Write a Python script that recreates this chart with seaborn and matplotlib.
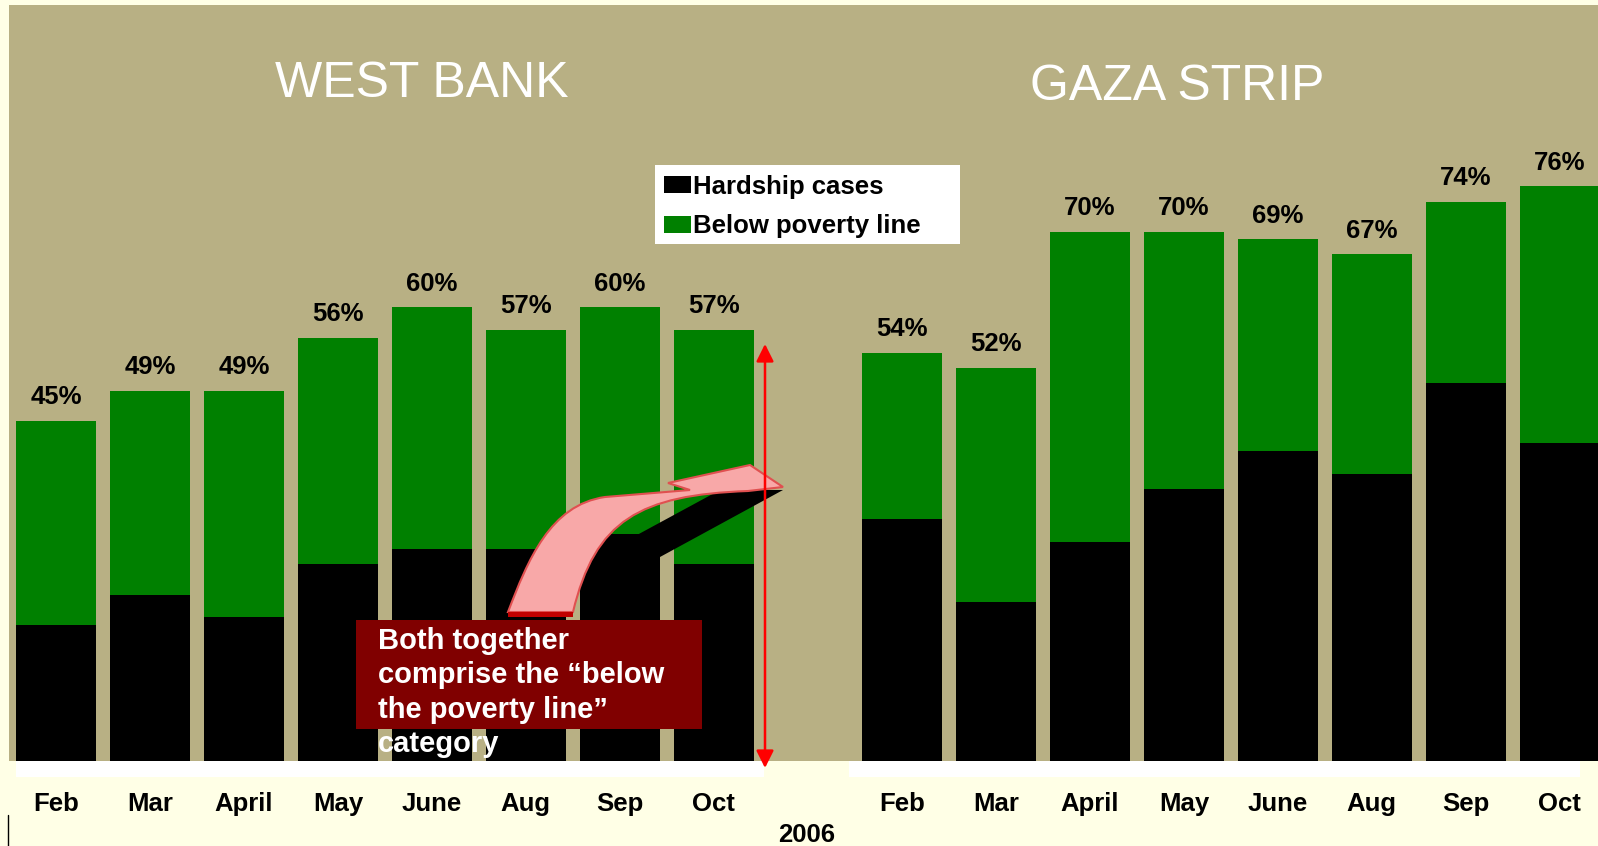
import matplotlib
matplotlib.use("Agg")
import matplotlib.pyplot as plt
import numpy as np
import pandas as pd
import seaborn as sns
from matplotlib.patches import Rectangle, FancyArrowPatch, PathPatch, Polygon
from matplotlib.path import Path
from matplotlib.lines import Line2D

months = ['Feb', 'Mar', 'April', 'May', 'June', 'Aug', 'Sep', 'Oct']
west_total = [45, 49, 49, 56, 60, 57, 60, 57]
west_hardship = [18, 22, 19, 26, 28, 28, 30, 26]
gaza_total = [54, 52, 70, 70, 69, 67, 74, 76]
gaza_hardship = [32, 21, 29, 36, 41, 38, 50, 42]
year_label = '2006'
note_lines = ['Both together', 'comprise the \u201cbelow', 'the poverty line\u201d', 'category']

W, H = 1598, 846
cream = '#FFFFE6'
khaki = '#B8B084'
green = '#008000'
black = '#000000'

sns.set_theme(style='white')
plt.rcParams['font.family'] = ['Liberation Sans', 'DejaVu Sans']
plt.rcParams['text.color'] = 'black'
plt.rcParams['xtick.color'] = 'black'
plt.rcParams['xtick.labelcolor'] = 'black'


def ff(x, y):
    # pixel (top-left origin) -> figure fraction
    return x / W, 1 - y / H


fig = plt.figure(figsize=(W / 100, H / 100), dpi=100, facecolor=cream)

# khaki panel and white base strips
fig.add_artist(Rectangle(ff(9, 761), (W - 9) / W, (761 - 5) / H, transform=fig.transFigure,
                         facecolor=khaki, edgecolor='none', zorder=0))
fig.add_artist(Rectangle(ff(16, 777), (764 - 16) / W, 16 / H, transform=fig.transFigure,
                         facecolor='white', edgecolor='none', zorder=0))
fig.add_artist(Rectangle(ff(849, 777), (1580 - 849) / W, 16 / H, transform=fig.transFigure,
                         facecolor='white', edgecolor='none', zorder=0))
fig.add_artist(Line2D([8 / W, 8 / W], [0, 1 - 815 / H], transform=fig.transFigure, color='black', lw=1))

pitch = 93.96
panels = [
    (9, 770, 56, west_total, west_hardship, 'WEST BANK', 422, 84),
    (849, 1598, 902, gaza_total, gaza_hardship, 'GAZA STRIP', 1177, 87),
]
axes = []
for x0, x1, c0, total, hard, title, tx, ty in panels:
    l, b = ff(x0, 761)
    ax = fig.add_axes([l, b, (x1 - x0) / W, (761 - 5) / H])
    ax.patch.set_alpha(0)
    df = pd.DataFrame({'month': months, 'total': total, 'hardship': hard})
    sns.barplot(data=df, x='month', y='total', color=green, saturation=1, width=0.85,
                linewidth=0, label='Below poverty line', ax=ax)
    sns.barplot(data=df, x='month', y='hardship', color=black, saturation=1, width=0.85,
                linewidth=0, label='Hardship cases', ax=ax)
    if ax.get_legend() is not None:
        ax.get_legend().remove()
    ax.bar_label(ax.containers[0], labels=[f'{v}%' for v in total], padding=8.5,
                 fontsize=18.5, fontweight='bold', color='black')
    ax.set_xlim((x0 - c0) / pitch, (x1 - c0) / pitch)
    ax.set_ylim(0, 100)
    ax.set_xlabel('')
    ax.set_ylabel('')
    ax.set_yticks([])
    ax.tick_params(axis='x', length=0, pad=22.5, labelsize=18.5, labelcolor='black')
    for t in ax.get_xticklabels():
        t.set_fontweight('bold')
    for s in ax.spines.values():
        s.set_visible(False)
    fig.text(*ff(tx, ty), title, color='white', fontsize=36, ha='center', va='center')
    axes.append(ax)

ax = axes[0]

# legend with white box
fig.add_artist(Rectangle(ff(655, 244), (960 - 655) / W, (244 - 165) / H, transform=fig.transFigure,
                         facecolor='white', edgecolor='none', zorder=1))
handles, labels = ax.get_legend_handles_labels()
leg = fig.legend(handles[::-1], labels[::-1], loc='upper left', bbox_to_anchor=ff(656, 167),
                 frameon=False, prop={'size': 18.5, 'weight': 'bold'}, handlelength=1.05,
                 handleheight=0.65, handletextpad=0.1, labelspacing=0.6, borderpad=0.3,
                 borderaxespad=0, labelcolor='black')
leg.set_zorder(2)

# year label
fig.text(*ff(807, 835), year_label, fontsize=18.5, fontweight='bold', ha='center', va='center',
         color='black')

# red double arrow
fig.add_artist(FancyArrowPatch(ff(765, 344), ff(765, 768), transform=fig.transFigure,
                               arrowstyle='<|-|>,head_length=0.7,head_width=0.35', mutation_scale=15,
                               color='red', lw=1.8, shrinkA=0, shrinkB=0, zorder=5))

# shadow of the curved arrow
shadow = [(783, 490), (660, 557), (590, 557), (590, 535), (637, 535), (720, 490)]
fig.add_artist(Polygon([ff(*p) for p in shadow], closed=True, transform=fig.transFigure,
                       facecolor='black', edgecolor='none', zorder=3))

# pink curved arrow
verts = [(508, 612), (528, 560), (550, 505), (605, 497), (690, 490), (668, 483), (750, 465),
         (783, 487), (748, 491), (640, 495), (595, 520), (573, 612), (508, 612)]
codes = [Path.MOVETO, Path.CURVE4, Path.CURVE4, Path.CURVE4, Path.LINETO, Path.LINETO, Path.LINETO,
         Path.LINETO, Path.LINETO, Path.CURVE4, Path.CURVE4, Path.CURVE4, Path.CLOSEPOLY]
fig.add_artist(PathPatch(Path([ff(*v) for v in verts], codes), transform=fig.transFigure,
                         facecolor='#F8A8A8', edgecolor='#E05050', lw=1.5, zorder=4))
fig.add_artist(Rectangle(ff(508, 617), 65 / W, 5 / H, transform=fig.transFigure,
                         facecolor='#C00000', edgecolor='none', zorder=4))

# note box
fig.add_artist(Rectangle(ff(356, 729), (702 - 356) / W, (729 - 620) / H, transform=fig.transFigure,
                         facecolor='#800000', edgecolor='none', zorder=5))
for i, line in enumerate(note_lines):
    fig.text(*ff(378, 649 + 34.3 * i), line, color='white', fontsize=21, fontweight='bold',
             ha='left', va='baseline', zorder=6)

fig.savefig('out.png', dpi=100, facecolor=cream)
